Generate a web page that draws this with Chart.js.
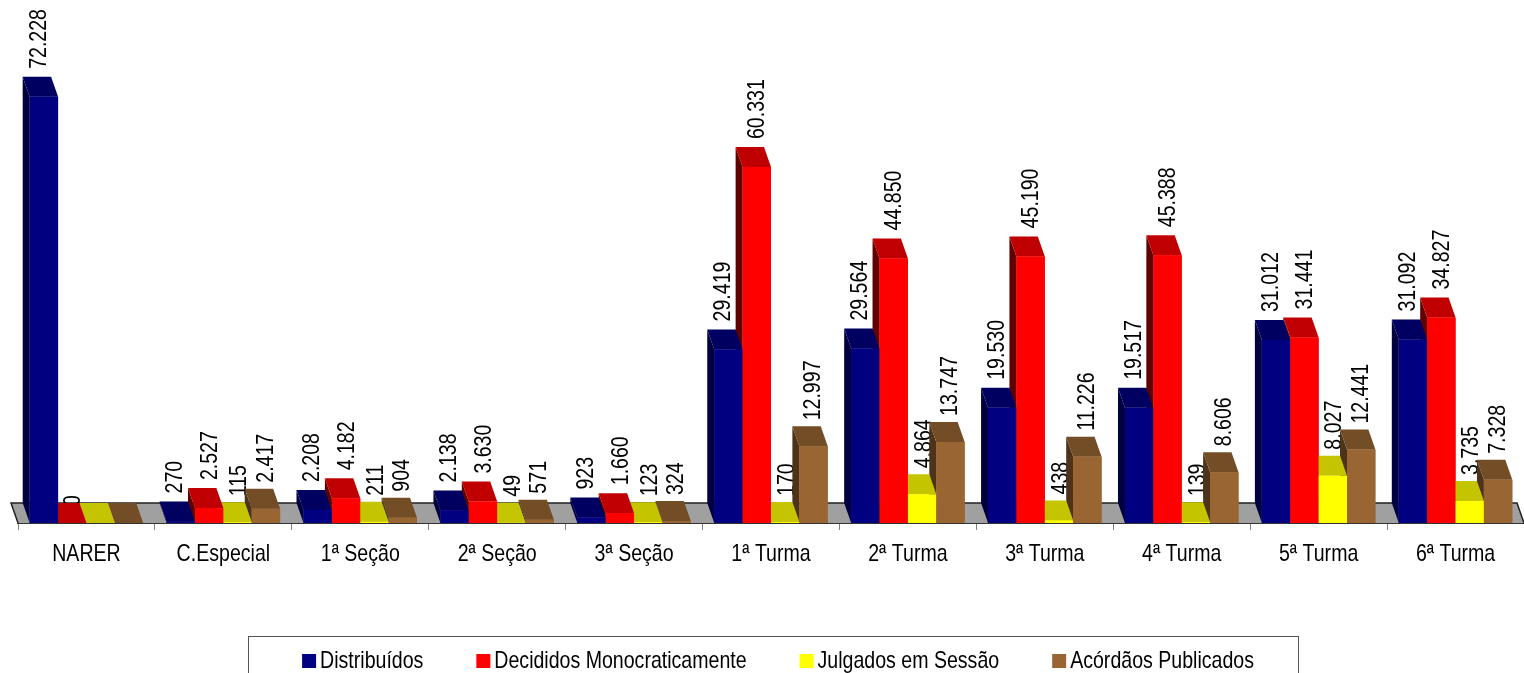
<!DOCTYPE html>
<html><head><meta charset="utf-8">
<style>html,body{margin:0;padding:0;background:#fff;overflow:hidden}canvas{display:block}</style>
<script src="https://cdn.jsdelivr.net/npm/chart.js@4"></script>
</head><body><canvas id="c" width="1524" height="673"></canvas>
<script>
const categories = ['NARER','C.Especial','1ª Seção','2ª Seção','3ª Seção','1ª Turma','2ª Turma','3ª Turma','4ª Turma','5ª Turma','6ª Turma'];
const seriesNames = ['Distribuídos','Decididos Monocraticamente','Julgados em Sessão','Acórdãos Publicados'];
const distribuidos = [72228,270,2208,2138,923,29419,29564,19530,19517,31012,31092];
const decididos = [0,2527,4182,3630,1660,60331,44850,45190,45388,31441,34827];
const julgados = [null,115,211,49,123,170,4864,438,139,8027,3735];
const acordaos = [null,2417,904,571,324,12997,13747,11226,8606,12441,7328];
const frontColors = ['#000080','#ff0000','#ffff00','#996633'];
const topColors = ['#000060','#c00000','#c4c400','#734d26'];
const sideColors = ['#000040','#600000','#606000','#4d3319'];
const labelShift = [-5,1,2,0];
const labelGap = [8,8,6,6];
const FONT = '"Liberation Sans",Arial,sans-serif';
const FONT_SIZE = 24, NARROW = 0.815;
const DX = 7, DY = 20;
const fmt = v => String(v).replace(/\B(?=(\d{3})+(?!\d))/g,'.');

function poly(ctx, pts, fill){
  ctx.beginPath();
  pts.forEach((p,i)=> i?ctx.lineTo(p[0],p[1]):ctx.moveTo(p[0],p[1]));
  ctx.closePath(); ctx.fillStyle=fill; ctx.fill();
}
function narrowText(ctx,text,x,y,align){
  ctx.save();
  ctx.translate(x,y); ctx.scale(NARROW,1);
  ctx.font=FONT_SIZE+'px '+FONT; ctx.fillStyle='#000';
  ctx.textAlign=align; ctx.textBaseline='middle';
  ctx.fillText(text,0,0);
  ctx.restore();
}
function narrowWidth(ctx,text){
  ctx.save(); ctx.font=FONT_SIZE+'px '+FONT;
  const w=ctx.measureText(text).width*NARROW; ctx.restore(); return w;
}
const bars3d = {
  id:'bars3d',
  beforeDatasetsDraw(chart){
    const {ctx,chartArea:a} = chart;
    const b = chart.scales.y.getPixelForValue(0);
    poly(ctx,[[a.left,b],[a.left-DX,b-DY],[a.right-DX,b-DY],[a.right,b]],'#a0a0a0');
    ctx.save(); ctx.strokeStyle='#222'; ctx.lineWidth=1.5;
    ctx.beginPath(); ctx.moveTo(a.left,b); ctx.lineTo(a.left-DX,b-DY); ctx.lineTo(a.right-DX,b-DY); ctx.lineTo(a.right,b); ctx.stroke();
    ctx.restore();
  },
  afterDatasetsDraw(chart){
    const {ctx} = chart;
    const b = chart.scales.y.getPixelForValue(0);
    const sets = chart.data.datasets.map((ds,i)=>({ds,i,meta:chart.getDatasetMeta(i)}));
    const geo = (s,j)=>{
      const el=s.meta.data[j], v=s.ds.data[j], has=v!==null&&v!==undefined;
      return {el,v,has,y:has?el.y:b,l:el.x-el.width/2,r:el.x+el.width/2};
    };
    // value labels sit behind the bars
    sets.forEach(s=>s.ds.data.forEach((_,j)=>{
      const g=geo(s,j);
      if(!g.has) return;
      ctx.save();
      ctx.translate(g.el.x+labelShift[s.i], g.y-DY-(g.v===0?-3:labelGap[s.i]));
      ctx.rotate(-Math.PI/2);
      narrowText(ctx,fmt(g.v),0,0,'left');
      ctx.restore();
    }));
    // side faces, then top faces right to left, then the fronts
    sets.forEach(s=>s.ds.data.forEach((_,j)=>{
      const g=geo(s,j);
      poly(ctx,[[g.l,g.y],[g.l-DX,g.y-DY],[g.l-DX,b-DY],[g.l,b]],sideColors[s.i]);
    }));
    sets.slice().reverse().forEach(s=>s.ds.data.forEach((_,j)=>{
      const g=geo(s,j);
      poly(ctx,[[g.l,g.y],[g.l-DX,g.y-DY],[g.r-DX,g.y-DY],[g.r,g.y]],topColors[s.i]);
    }));
    sets.forEach(s=>s.ds.data.forEach((_,j)=>{
      const g=geo(s,j);
      if(g.has) g.el.draw(ctx);
    }));
  },
  afterDraw(chart){
    const {ctx} = chart;
    const xs = chart.scales.x;
    categories.forEach((c,i)=>narrowText(ctx,c,xs.getPixelForTick(i),554,'center'));
    ctx.save();
    ctx.strokeStyle='#555'; ctx.lineWidth=1;
    ctx.strokeRect(248.5,636.5,1050,60);
    ctx.restore();
    const sw=14, tg=4, gap=53;
    const widths = chart.data.datasets.map(d=>narrowWidth(ctx,d.label));
    const total = widths.reduce((s,w)=>s+w+sw+tg,0)+gap*(widths.length-1);
    let x = 778-total/2;
    chart.data.datasets.forEach((d,i)=>{
      ctx.fillStyle=frontColors[i]; ctx.fillRect(x,654,sw,14);
      narrowText(ctx,d.label,x+sw+tg,661,'left');
      x+=sw+tg+widths[i]+gap;
    });
  }
};
new Chart(document.getElementById('c'),{
  type:'bar',
  data:{labels:categories,datasets:[distribuidos,decididos,julgados,acordaos].map((d,i)=>({
    label:seriesNames[i],data:d,backgroundColor:frontColors[i],borderWidth:0,
    barPercentage:1,categoryPercentage:0.829}))},
  options:{
    responsive:false,animation:false,
    layout:{padding:{left:18,right:-1,top:51,bottom:120}},
    plugins:{legend:{display:false},tooltip:{enabled:false}},
    scales:{
      x:{afterFit(s){s.height=30;},
        grid:{drawOnChartArea:false,drawTicks:true,tickLength:7,color:'#808080',offset:true},
        border:{color:'#333',width:2},
        ticks:{display:false}},
      y:{display:false,min:0,max:80000}
    }
  },
  plugins:[bars3d]
});
</script></body></html>
